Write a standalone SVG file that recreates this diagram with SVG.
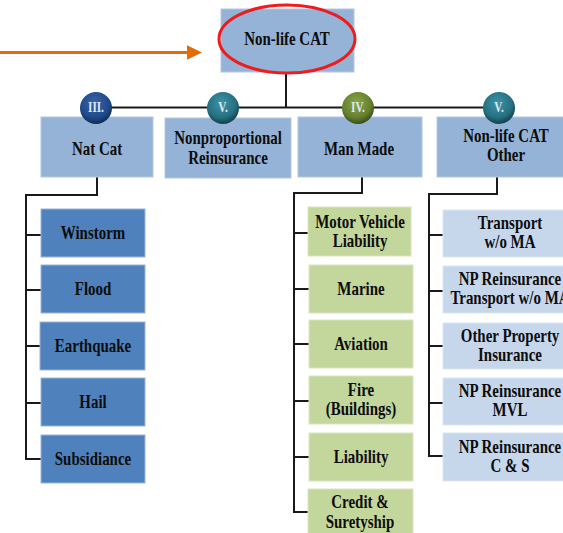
<svg xmlns="http://www.w3.org/2000/svg" width="563" height="533" viewBox="0 0 563 533">
<style>
text{font-family:"Liberation Serif","Times New Roman",serif;font-weight:bold;text-anchor:middle;fill:#0d0d0d;transform-box:fill-box;transform-origin:center;transform:scaleX(0.83)}
.t{font-size:18px}
.b{font-size:14px;fill:#dfe8f3;transform:scaleX(0.8)}
.lv{fill:#95B3D7;stroke:#B4C8E2;stroke-width:1}
.nc{fill:#4F81BD;stroke:#9DB6D9;stroke-width:1}
.mm{fill:#C3D69B;stroke:#D9E5C0;stroke-width:1}
.ot{fill:#C6D7EC;stroke:#DCE6F2;stroke-width:1}
.ln{fill:none;stroke:#1a1a1a;stroke-width:2}
</style>
<defs>
<radialGradient id="gB" cx="0.45" cy="0.35" r="0.65"><stop offset="0" stop-color="#3B64A8"/><stop offset="0.7" stop-color="#1F4A8A"/><stop offset="1" stop-color="#112A52"/></radialGradient>
<radialGradient id="gT" cx="0.45" cy="0.35" r="0.65"><stop offset="0" stop-color="#3D95A8"/><stop offset="0.7" stop-color="#256F80"/><stop offset="1" stop-color="#133F4A"/></radialGradient>
<radialGradient id="gO" cx="0.45" cy="0.35" r="0.65"><stop offset="0" stop-color="#8AA84A"/><stop offset="0.7" stop-color="#647F2E"/><stop offset="1" stop-color="#3B4C19"/></radialGradient>
<marker id="ah" markerWidth="6" markerHeight="6" refX="1" refY="3" orient="auto" markerUnits="strokeWidth"><path d="M0,0.6 L5,3 L0,5.4 Z" fill="#E36C09"/></marker>
</defs>

<g id="connectors">
<line x1="0" y1="52.5" x2="190" y2="52.5" stroke="#E36C09" stroke-width="3" marker-end="url(#ah)"/>
<path class="ln" d="M286,72 V107.5 M97,107.5 H499"/>
<path class="ln" d="M97,177 V195 H26 V459 H41 M26,235 H41 M26,290 H41 M26,346 H41 M26,403 H41"/>
<path class="ln" d="M362,177 V193 H294 V512 H308 M294,233 H308 M294,289 H309 M294,344 H309 M294,401 H309 M294,457 H309"/>
<path class="ln" d="M497,177 V194 H429 V456 H443 M429,235 H443 M429,291 H443 M429,346 H443 M429,403 H443"/>
</g>

<g id="root">
<rect x="221" y="9" width="133" height="63" class="lv"/>
<ellipse cx="287" cy="39" rx="68" ry="34" fill="none" stroke="#EE1C1C" stroke-width="3"/>
<text class="t" x="287" y="45">Non-life CAT</text>
</g>

<g id="natcat">
<rect x="41" y="117" width="112" height="60" class="lv"/>
<text class="t" x="97" y="155">Nat Cat</text>
<circle cx="96" cy="108" r="16" fill="url(#gB)"/>
<text class="b" x="96" y="112">III.</text>
</g>
<g id="nonprop">
<rect x="165" y="118" width="126" height="60" class="lv"/>
<text class="t" x="228" y="144">Nonproportional</text>
<text class="t" x="228" y="164">Reinsurance</text>
<circle cx="223" cy="108" r="16" fill="url(#gT)"/>
<text class="b" x="223" y="112">V.</text>
</g>
<g id="manmade">
<rect x="298" y="117" width="124" height="60" class="lv"/>
<text class="t" x="359" y="155">Man Made</text>
<circle cx="358" cy="108" r="16" fill="url(#gO)"/>
<text class="b" x="358" y="112">IV.</text>
</g>
<g id="other">
<rect x="437" y="117" width="140" height="60" class="lv"/>
<text class="t" x="506" y="142">Non-life CAT</text>
<text class="t" x="506" y="161">Other</text>
<circle cx="499" cy="108" r="16" fill="url(#gT)"/>
<text class="b" x="499" y="112">V.</text>
</g>

<g id="winstorm"><rect x="41" y="209" width="104" height="48" class="nc"/><text class="t" x="93" y="239">Winstorm</text></g>
<g id="flood"><rect x="41" y="265" width="104" height="48" class="nc"/><text class="t" x="93" y="295">Flood</text></g>
<g id="earthquake"><rect x="40" y="322" width="105" height="48" class="nc"/><text class="t" x="93" y="352">Earthquake</text></g>
<g id="hail"><rect x="41" y="378" width="104" height="48" class="nc"/><text class="t" x="93" y="408">Hail</text></g>
<g id="subsidiance"><rect x="41" y="435" width="104" height="48" class="nc"/><text class="t" x="93" y="465">Subsidiance</text></g>

<g id="mvl"><rect x="308" y="207" width="103" height="49" class="mm"/><text class="t" x="360" y="228">Motor Vehicle</text><text class="t" x="360" y="247">Liability</text></g>
<g id="marine"><rect x="309" y="265" width="104" height="48" class="mm"/><text class="t" x="361" y="295">Marine</text></g>
<g id="aviation"><rect x="309" y="320" width="104" height="48" class="mm"/><text class="t" x="361" y="350">Aviation</text></g>
<g id="fire"><rect x="309" y="376" width="104" height="48" class="mm"/><text class="t" x="361" y="396">Fire</text><text class="t" x="361" y="415">(Buildings)</text></g>
<g id="liability"><rect x="309" y="433" width="104" height="48" class="mm"/><text class="t" x="361" y="463">Liability</text></g>
<g id="credit"><rect x="308" y="489" width="105" height="48" class="mm"/><text class="t" x="360" y="508">Credit &amp;</text><text class="t" x="360" y="528">Suretyship</text></g>

<g id="transport"><rect x="443" y="210" width="134" height="47" class="ot"/><text class="t" x="510" y="229">Transport</text><text class="t" x="510" y="248">w/o MA</text></g>
<g id="npTransport"><rect x="443" y="266" width="134" height="47" class="ot"/><text class="t" x="510" y="285">NP Reinsurance</text><text class="t" x="510" y="304">Transport w/o MA</text></g>
<g id="otherProperty"><rect x="443" y="323" width="134" height="46" class="ot"/><text class="t" x="510" y="342">Other Property</text><text class="t" x="510" y="361">Insurance</text></g>
<g id="npMvl"><rect x="443" y="378" width="134" height="47" class="ot"/><text class="t" x="510" y="397">NP Reinsurance</text><text class="t" x="510" y="416">MVL</text></g>
<g id="npCs"><rect x="443" y="433" width="134" height="48" class="ot"/><text class="t" x="510" y="453">NP Reinsurance</text><text class="t" x="510" y="472">C &amp; S</text></g>
</svg>
